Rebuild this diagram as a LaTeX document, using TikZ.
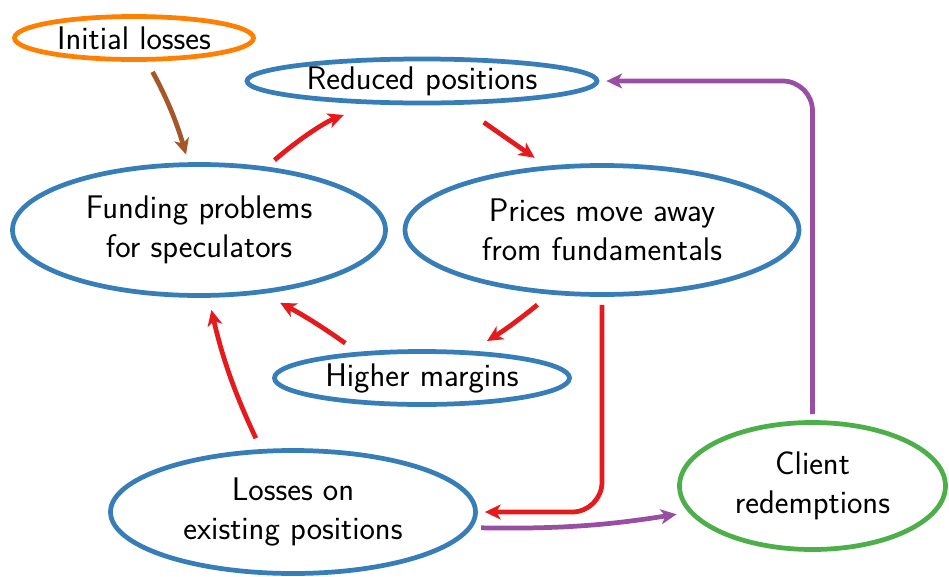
\documentclass[tikz,border=0pt]{standalone}
\usepackage{fontspec}
\usetikzlibrary{shapes.geometric,arrows.meta}

\definecolor{setblue}{HTML}{377EB8}
\definecolor{setred}{HTML}{E41A1C}
\definecolor{setgreen}{HTML}{4DAF4A}
\definecolor{setpurple}{HTML}{984EA3}
\definecolor{setorange}{HTML}{FF7F00}
\definecolor{setbrown}{HTML}{A65628}

\tikzset{
  blob/.style={ellipse, draw=setblue, line width=2.7pt, inner sep=0pt,
    align=center, font=\sffamily\fontsize{18.6}{22.3}\selectfont},
  link/.style={line width=2.7pt, setred,
    -{Stealth[length=9pt, width=8.5pt, inset=2.5pt]}},
}

\begin{document}
\begin{tikzpicture}
        \useasboundingbox (0,0) rectangle (18.98,-11.54);

        \node [blob, draw=setorange, minimum width=4.78cm, minimum height=0.86cm] (init) at (2.68,-0.76) {Initial losses};
        \node [blob, minimum width=7.0cm, minimum height=0.88cm] (reduced) at (8.44,-1.62) {Reduced positions};
        \node [blob, minimum width=7.46cm, minimum height=2.62cm] (funding) at (3.98,-4.6) {Funding problems\\for speculators};
        \node [blob, minimum width=7.88cm, minimum height=2.58cm] (prices) at (12.04,-4.6) {Prices move away\\from fundamentals};
        \node [blob, minimum width=5.9cm, minimum height=1.06cm] (margins) at (8.44,-7.56) {Higher margins};
        \node [blob, minimum width=7.3cm, minimum height=2.46cm] (losses) at (5.86,-10.24) {Losses on\\existing positions};
        \node [blob, draw=setgreen, minimum width=5.32cm, minimum height=2.54cm] (client) at (16.25,-9.72) {Client\\redemptions};

        % the spiral
        \draw [link, setbrown, shorten <=0.23cm, shorten >=0.16cm] (init.-61) to [bend left=6] (funding.99);
        \draw [link, shorten <=0.2cm, shorten >=0.6cm] (funding.43) to [bend left=10] (reduced.205);
        \draw [link, shorten <=0.61cm, shorten >=0.28cm] (reduced.-33) -- (prices.131);
        \draw [link, shorten <=0.32cm, shorten >=0.37cm] (prices.231) to [bend left=4] (margins.29);
        \draw [link, shorten <=0.3cm, shorten >=0.39cm] (margins.158) to [bend right=4] (funding.-45);
        \draw [link, shorten <=0.24cm, shorten >=0.25cm] (losses.117) to [bend left=6] (funding.-82);

        \draw [link, rounded corners=0.6cm, shorten <=0.16cm, shorten >=0.14cm] (prices.south) |- (losses.east);

        % redemptions
        \draw [link, setpurple, shorten <=0.18cm, shorten >=0.24cm] (losses.-5.6) to [bend right=5] (client.192.7);
        \draw [link, setpurple, rounded corners=0.6cm, shorten <=0.12cm, shorten >=0.14cm] (client.north) |- (reduced.east);

    \end{tikzpicture}
\end{document}
